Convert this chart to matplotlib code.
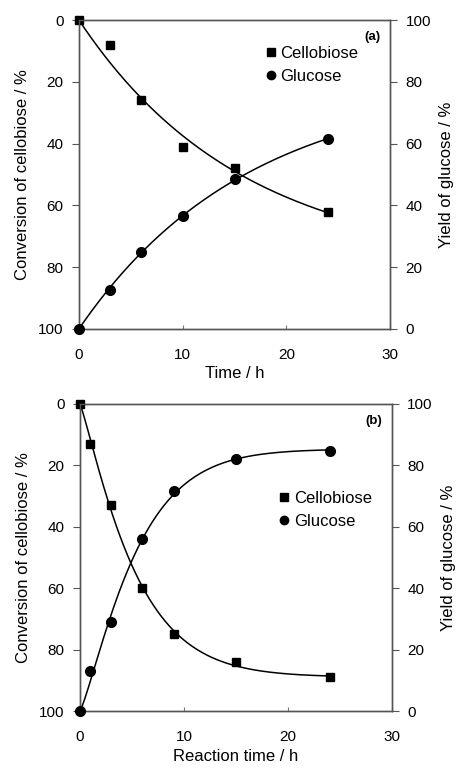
import numpy as np
import matplotlib
matplotlib.use("Agg")
import matplotlib.pyplot as plt
from matplotlib.lines import Line2D

plt.rcParams["font.family"] = ["Liberation Sans", "DejaVu Sans"]

# (a) time course
time_a = [0, 3, 6, 10, 15, 24]
cello_a = [0, 8, 26, 41, 48, 62]
gluc_a = [0, 12.5, 25, 36.5, 48.5, 61.5]

# (b) reaction time course
time_b = [0, 1, 3, 6, 9, 15, 24]
cello_b = [0, 13, 33, 60, 75, 84, 89]
gluc_b = [0, 13, 29, 56, 71.5, 82, 84.5]

x_ticks = [0, 10, 20, 30]
y_ticks = [0, 20, 40, 60, 80, 100]


def fit_curve(t, y, n_range=(0.6, 1.8)):
    """Least-squares fit of y = A*(1 - exp(-(k t)^n)) by grid search."""
    t = np.asarray(t, float)
    y = np.asarray(y, float)
    best = None
    for n in np.linspace(n_range[0], n_range[1], 61):
        for k in np.linspace(0.01, 0.6, 300):
            g = 1 - np.exp(-(k * t) ** n)
            A = np.dot(g, y) / np.dot(g, g)
            err = np.sum((A * g - y) ** 2)
            if best is None or err < best[0]:
                best = (err, A, k, n)
    _, A, k, n = best
    tt = np.linspace(0, t.max(), 200)
    return tt, A * (1 - np.exp(-(k * tt) ** n))


def panel(rect, t, cello, gluc, xlabel, tag, leg_xy, n_range):
    ax = fig.add_axes(rect)
    ax2 = ax.twinx()

    tt, cc = fit_curve(t, cello, n_range)
    ax.plot(tt, cc, color="black", lw=1.1)
    ax.plot(t, cello, "s", color="black", ms=6, clip_on=False, zorder=5)

    tt, gg = fit_curve(t, gluc, n_range)
    ax2.plot(tt, gg, color="black", lw=1.1)
    ax2.plot(t, gluc, "o", color="black", ms=7, clip_on=False, zorder=5)

    ax.set_xlim(0, 30)
    ax.set_ylim(100, 0)
    ax2.set_ylim(0, 100)
    ax.set_xticks(x_ticks)
    ax.set_yticks(y_ticks)
    ax2.set_yticks(y_ticks)

    for a in (ax, ax2):
        for s in a.spines.values():
            s.set_color("#555555")
            s.set_linewidth(1.0)
    ax.tick_params(axis="x", direction="in", length=3, color="#777777",
                   labelsize=11, pad=14)
    ax.tick_params(axis="y", direction="out", length=5, color="#555555",
                   labelsize=11, pad=6)
    ax2.tick_params(axis="y", direction="out", length=5, color="#555555",
                    labelsize=11, pad=6)

    ax.set_xlabel(xlabel, fontsize=12, labelpad=3)
    ax.set_ylabel("Conversion of cellobiose / %", fontsize=12, labelpad=6)
    ax2.set_ylabel("Yield of glucose / %", fontsize=12, labelpad=6)

    ax.text(0.968, 0.965, tag, transform=ax.transAxes, ha="right", va="top",
            fontsize=9.5, fontweight="bold")

    handles = [
        Line2D([], [], ls="none", marker="s", color="black", ms=6),
        Line2D([], [], ls="none", marker="o", color="black", ms=6),
    ]
    ax2.legend(handles, ["Cellobiose", "Glucose"], loc="upper left",
               bbox_to_anchor=leg_xy, frameon=False, fontsize=12,
               handlelength=0.6, handletextpad=0.3, labelspacing=0.45,
               borderpad=0)
    return ax


fig = plt.figure(figsize=(4.59, 7.72), dpi=100)
panel([0.172, 0.574, 0.678, 0.400], time_a, cello_a, gluc_a,
      "Time / h", "(a)", (0.573, 0.942), (1.0, 1.0))
panel([0.174, 0.079, 0.680, 0.398], time_b, cello_b, gluc_b,
      "Reaction time / h", "(b)", (0.612, 0.743), (0.6, 1.8))

fig.savefig("out.png", dpi=100)
